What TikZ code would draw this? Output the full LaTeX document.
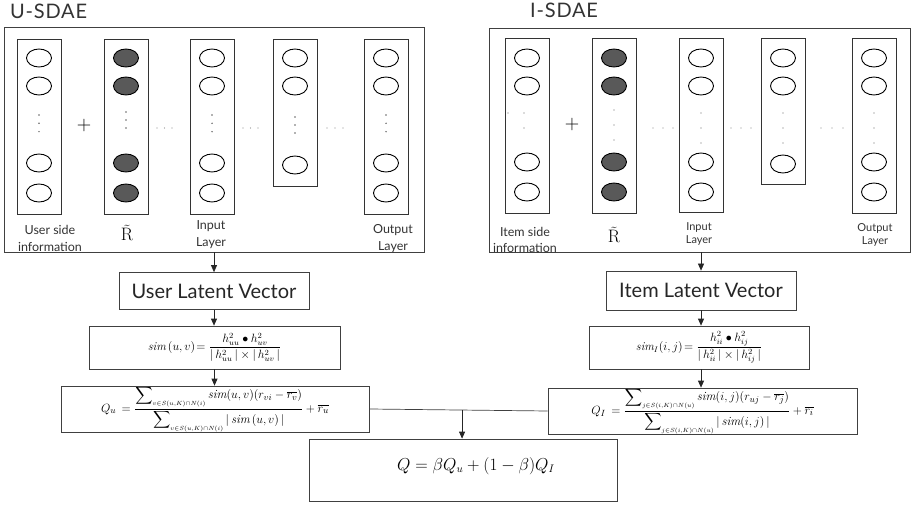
\documentclass[tikz,border=0pt]{standalone}
\usepackage{amsmath}
\usepackage{fontspec}
\newfontfamily\labfont{Lato}
\newfontfamily\titlefont[LetterSpace=4]{Lato}
\usetikzlibrary{shapes.geometric,arrows.meta,calc}
\begin{document}
\begin{tikzpicture}[x=1pt,y=-1pt,
  frame/.style={draw=black!75, line width=0.7pt, inner sep=0},
  col/.style={draw=black!80, line width=0.7pt, minimum width=44pt, inner sep=0},
  neuron/.style={ellipse, draw=black, line width=0.9pt, minimum width=25pt, minimum height=18pt, inner sep=0},
  dark/.style={neuron, fill=black!65},
  lab/.style={font=\labfont\fontsize{12.5}{16.5}\selectfont, align=center, inner sep=0, text=black!80},
  slab/.style={font=\labfont\fontsize{11}{13}\selectfont, align=center, inner sep=0, text=black!80},
  title/.style={font=\titlefont\fontsize{20}{22}\selectfont, anchor=west, inner sep=0, text=black!80},
  big/.style={font=\labfont\fontsize{20}{24}\selectfont, inner sep=0, text=black!85},
  rt/.style={font=\fontsize{18}{20}\selectfont, inner sep=0},
  fin/.style={font=\fontsize{16}{18}\selectfont, inner sep=0},
  pl/.style={font=\fontsize{20}{20}\selectfont, inner sep=0},
  box/.style={draw=black!75, line width=0.7pt, inner sep=0},
  fml/.style={font=\fontsize{12}{14}\selectfont, inner sep=0},
  qfml/.style={font=\fontsize{12.5}{14}\selectfont, inner sep=0},
  arr/.style={draw=black!85, line width=0.7pt, -{Triangle[length=7pt,width=6pt]}},
  ln/.style={draw=black!75, line width=0.7pt}
]
\useasboundingbox (0,0) rectangle (916,505);

% ---------- titles ----------
\node[title] (tU) at (10,11) {U-SDAE};
\node[title] (tI) at (530,10) {I-SDAE};

% ---------- big frames ----------
\node[frame, minimum width=420, minimum height=225] (U) at (214,139.5) {};
\node[frame, minimum width=421, minimum height=224] (I) at (699.5,140) {};

% ---------- left columns ----------
\node[col, minimum height=175] (uc1) at (39,126.5) {};
\node[col, minimum height=175] (uc2) at (126,126.5) {};
\node[col, minimum height=175] (uc3) at (212,126.5) {};
\node[col, minimum height=147] (uc4) at (295,112.5) {};
\node[col, minimum height=175] (uc5) at (386,126.5) {};

\foreach \x/\n in {39/1,212/3,386/5}{
  \node[neuron] (un\n a) at (\x,58) {};
  \node[neuron] (un\n b) at (\x,86) {};
  \node[neuron] (un\n c) at (\x,163) {};
  \node[neuron] (un\n d) at (\x,193) {};
  \foreach \y in {115,123.3,131.7}{\fill[black!60] (\x,\y) circle (0.8);}
}
\node[dark] (un2a) at (126,58) {};
\node[dark] (un2b) at (126,86) {};
\node[dark] (un2c) at (126,163) {};
\node[dark] (un2d) at (126,193) {};
\foreach \y in {112,120,128}{\fill[black!60] (126,\y) circle (0.8);}
\node[neuron] (un4a) at (295,58) {};
\node[neuron] (un4b) at (295,86) {};
\node[neuron] (un4c) at (295,165) {};
\foreach \y in {117,125,133}{\fill[black!60] (295,\y) circle (0.8);}

\node[pl] (uplus) at (84,126) {+};
\foreach \x in {157,164.5,172,243,250.5,258,327,335,343}{\fill[black!45] (\x,128) circle (0.6);}

\node[lab] (ul1) at (50,238.5) {User side\\information};
\node[rt] (ul2) at (127,233) {$\tilde{\mathrm{R}}$};
\node[lab] (ul3) at (211,234.5) {Input\\Layer};
\node[lab] (ul5) at (393,238.5) {Output\\Layer};

% ---------- right columns ----------
\node[col, minimum height=175] (ic1) at (527,125.5) {};
\node[col, minimum height=175] (ic2) at (614,125.5) {};
\node[col, minimum height=174] (ic3) at (701,125) {};
\node[col, minimum height=146] (ic4) at (783,111) {};
\node[col, minimum height=175] (ic5) at (874,125.5) {};

\foreach \x/\n in {527/1,701/3,874/5}{
  \node[neuron] (in\n a) at (\x,58) {};
  \node[neuron] (in\n b) at (\x,86) {};
  \node[neuron] (in\n c) at (\x,162) {};
  \node[neuron] (in\n d) at (\x,192) {};
}
\foreach \x in {701,874}{\foreach \y in {113,128,143}{\fill[black!60] (\x,\y) circle (0.7);}}
\fill[black!60] (508,113) circle (0.7) (524,113) circle (0.7) (524,128) circle (0.7);
\node[dark] (in2a) at (614,58) {};
\node[dark] (in2b) at (614,86) {};
\node[dark] (in2c) at (614,162) {};
\node[dark] (in2d) at (614,192) {};
\foreach \y in {110,125,140}{\fill[black!60] (614,\y) circle (0.7);}
\node[neuron] (in4a) at (783,58) {};
\node[neuron] (in4b) at (783,86) {};
\node[neuron] (in4c) at (783,164) {};
\foreach \y in {113,128,143}{\fill[black!60] (783,\y) circle (0.7);}

\node[pl] (iplus) at (572,125) {+};
\foreach \x in {653,663,673,731,741,751,821,832,843}{\fill[black!45] (\x,128) circle (0.6);}

\node[lab] (il1) at (525,240) {Item side\\information};
\node[rt] (il2) at (614,235) {$\tilde{\mathrm{R}}$};
\node[slab] (il3) at (699,234.5) {Input\\Layer};
\node[slab] (il5) at (875,234.5) {Output\\Layer};

% ---------- lower flow, left ----------
\node[box, minimum width=190, minimum height=37] (ULV) at (214,291) {};
\node[big] at (ULV.center) {User Latent Vector};
\node[box, minimum width=251, minimum height=43] (Usim) at (214.5,347.5) {};
\node[fml] at (Usim.center) {$\mathit{sim}\,(u,v)\!=\dfrac{h^2_{uu}\bullet h^2_{uv}}{|\,h^2_{uu}\,|\times|\,h^2_{uv}\,|}$};
\node[box, minimum width=308, minimum height=46] (Qu) at (215,409) {};
\node[qfml] at (Qu.center) {$Q_u\,=\dfrac{\displaystyle\sum\nolimits_{\scriptscriptstyle v\in S(u,K)\cap N(i)}\mathit{sim}(u,v)(r_{vi}-\overline{r_v})}{\displaystyle\sum\nolimits_{\scriptscriptstyle v\in S(u,K)\cap N(i)}|\,\mathit{sim}\,(u,v)\,|}+\overline{r_u}$};

% ---------- lower flow, right ----------
\node[box, minimum width=190, minimum height=39] (ILV) at (701,290.5) {};
\node[big] at (ILV.center) {Item Latent Vector};
\node[box, minimum width=220, minimum height=43] (Isim) at (699,347.5) {};
\node[fml] at (Isim.center) {$\mathit{sim}_{I}(i,j)\!=\dfrac{h^2_{ii}\bullet h^2_{ij}}{|\,h^2_{ii}\,|\times|\,h^2_{ij}\,|}$};
\node[box, minimum width=309, minimum height=46] (QI) at (702.5,411) {};
\node[qfml] at (QI.center) {$Q_I\,=\dfrac{\displaystyle\sum\nolimits_{\scriptscriptstyle j\in S(i,K)\cap N(u)}\mathit{sim}(i,j)(r_{uj}-\overline{r_j})}{\displaystyle\sum\nolimits_{\scriptscriptstyle j\in S(i,K)\cap N(u)}|\,\mathit{sim}(i,j)\,|}+\overline{r_i}$};

% ---------- final ----------
\node[box, minimum width=308, minimum height=62] (Q) at (463,470) {};
\node[fin] at (476,466) {$Q=\beta Q_u+(1-\beta)Q_I$};

% ---------- connectors ----------
\draw[arr] (U.south) -- (ULV.north);
\draw[arr] (ULV.south) -- (ULV.south |- Usim.north);
\draw[arr] (Usim.south) -- (Usim.south |- Qu.north);
\draw[arr] (I.south -| ILV.north) -- (ILV.north);
\draw[arr] (ILV.south) -- (ILV.south |- Isim.north);
\draw[arr] (ILV.south |- Isim.south) -- (ILV.south |- QI.north);
\draw[ln] (Qu.east) -- (QI.west);
\coordinate (J) at ($(Qu.east)!0.52!(QI.west)$);
\draw[arr] (J) -- (J |- Q.north);
\end{tikzpicture}
\end{document}
